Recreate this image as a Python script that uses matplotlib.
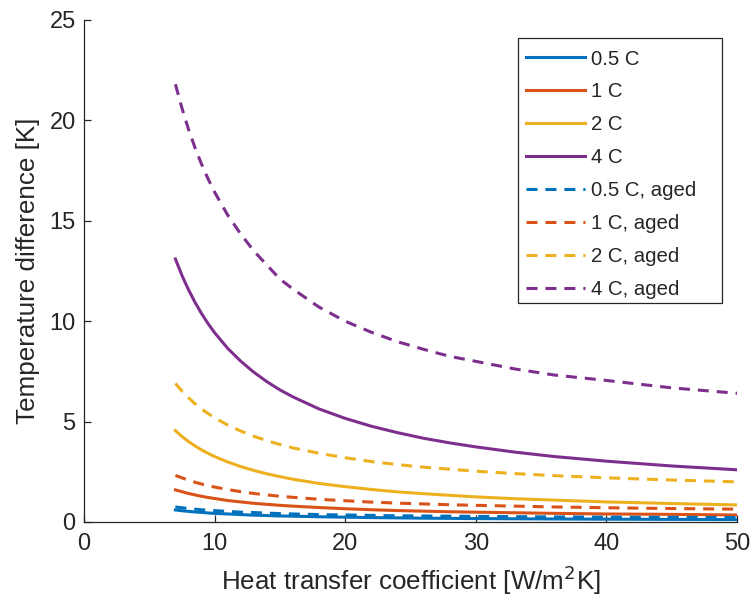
import matplotlib
matplotlib.use("Agg")
import matplotlib.pyplot as plt
from matplotlib.patches import Rectangle

plt.rcParams['font.family'] = ['Liberation Sans', 'DejaVu Sans']

# Heat transfer coefficient [W/m^2K]
h = [7, 7.5, 8, 8.5, 9, 9.5, 10, 11, 12, 13, 14, 15, 16, 18, 20, 22, 24, 26, 28, 30, 33, 36, 40, 45, 50]

# Temperature difference [K]
dT_05C = [0.60, 0.56, 0.53, 0.50, 0.48, 0.45, 0.43, 0.40, 0.37, 0.34, 0.32, 0.30, 0.29, 0.26, 0.24,
          0.22, 0.205, 0.19, 0.18, 0.17, 0.16, 0.15, 0.14, 0.13, 0.12]
dT_1C = [1.60, 1.51, 1.42, 1.35, 1.28, 1.22, 1.17, 1.07, 1.00, 0.93, 0.88, 0.83, 0.79, 0.72, 0.66,
         0.61, 0.57, 0.54, 0.51, 0.49, 0.46, 0.43, 0.40, 0.38, 0.35]
dT_2C = [4.55, 4.26, 4.01, 3.79, 3.59, 3.42, 3.26, 2.99, 2.76, 2.57, 2.40, 2.26, 2.13, 1.92, 1.76,
         1.62, 1.50, 1.41, 1.33, 1.25, 1.16, 1.09, 1.00, 0.92, 0.85]
dT_4C = [13.10, 12.28, 11.57, 10.94, 10.38, 9.88, 9.43, 8.65, 8.01, 7.46, 6.99, 6.58, 6.23, 5.63, 5.16,
         4.77, 4.45, 4.17, 3.94, 3.74, 3.48, 3.26, 3.03, 2.79, 2.60]
dT_05C_aged = [0.75, 0.71, 0.67, 0.64, 0.61, 0.59, 0.565, 0.53, 0.49, 0.47, 0.44, 0.42, 0.40, 0.37, 0.35,
               0.33, 0.31, 0.30, 0.29, 0.28, 0.265, 0.254, 0.24, 0.23, 0.22]
dT_1C_aged = [2.32, 2.20, 2.08, 1.98, 1.89, 1.81, 1.74, 1.62, 1.51, 1.42, 1.35, 1.28, 1.23, 1.13, 1.06,
              0.99, 0.94, 0.90, 0.86, 0.83, 0.79, 0.75, 0.71, 0.67, 0.64]
dT_2C_aged = [6.90, 6.52, 6.19, 5.89, 5.63, 5.40, 5.19, 4.83, 4.53, 4.27, 4.05, 3.86, 3.69, 3.42, 3.20,
              3.01, 2.86, 2.73, 2.63, 2.53, 2.41, 2.31, 2.20, 2.09, 2.00]
dT_4C_aged = [21.80, 20.61, 19.56, 18.64, 17.82, 17.09, 16.43, 15.29, 14.34, 13.5, 12.8, 12.1, 11.6, 10.7, 10.0,
              9.45, 8.98, 8.6, 8.25, 8.0, 7.62, 7.32, 7.05, 6.68, 6.41]

labels = ['0.5 C', '1 C', '2 C', '4 C', '0.5 C, aged', '1 C, aged', '2 C, aged', '4 C, aged']
colors = ['#0072BD', '#D95319', '#EDB120', '#7E2F8E']

W, H = 750, 605
fig = plt.figure(figsize=(W/100, H/100), dpi=100)
ax = fig.add_axes([84/W, 1 - 522/H, (737 - 84)/W, (522 - 20)/H])

txt = '#262626'
lw = 2.2
series = [dT_05C, dT_1C, dT_2C, dT_4C]
series_aged = [dT_05C_aged, dT_1C_aged, dT_2C_aged, dT_4C_aged]
for s, c, lab in zip(series, colors, labels[:4]):
    ax.plot(h, s, color=c, lw=lw, label=lab)
for s, c, lab in zip(series_aged, colors, labels[4:]):
    ax.plot(h, s, color=c, lw=lw, label=lab, dashes=(3.6, 2.6))

ax.set_xlim(0, 50)
ax.set_ylim(0, 25)
ax.set_xticks([0, 10, 20, 30, 40, 50])
ax.set_yticks([0, 5, 10, 15, 20, 25])
ax.spines['top'].set_visible(False)
ax.spines['right'].set_visible(False)
for sp in ['left', 'bottom']:
    ax.spines[sp].set_color(txt)
    ax.spines[sp].set_linewidth(0.9)
ax.tick_params(direction='in', length=5, width=0.9, color=txt, labelcolor=txt,
               labelsize=17)
ax.tick_params(axis='x', pad=8)
ax.tick_params(axis='y', pad=6)

ax.set_xlabel('Heat transfer coefficient [W/m$^2$K]', fontsize=18.7, color=txt, labelpad=6)
ax.set_ylabel('Temperature difference [K]', fontsize=18.7, color=txt, labelpad=7)

# legend frame (MATLAB-style, with wider right margin)
frame = Rectangle((518/W, 1 - 303/H), (722 - 518)/W, (303 - 38)/H,
                  transform=fig.transFigure, facecolor='white',
                  edgecolor=txt, linewidth=0.9, zorder=5, clip_on=False)
ax.add_artist(frame)
leg = ax.legend(loc='upper left', bbox_to_anchor=(518/W, 1 - 42/H),
                bbox_transform=fig.transFigure, fontsize=14.7, frameon=False,
                handlelength=2.9, handletextpad=0.3,
                labelspacing=0.68, borderpad=0.37, borderaxespad=0)
leg.set_zorder(6)
for t in leg.get_texts():
    t.set_color(txt)

fig.savefig('out.png', dpi=100)
